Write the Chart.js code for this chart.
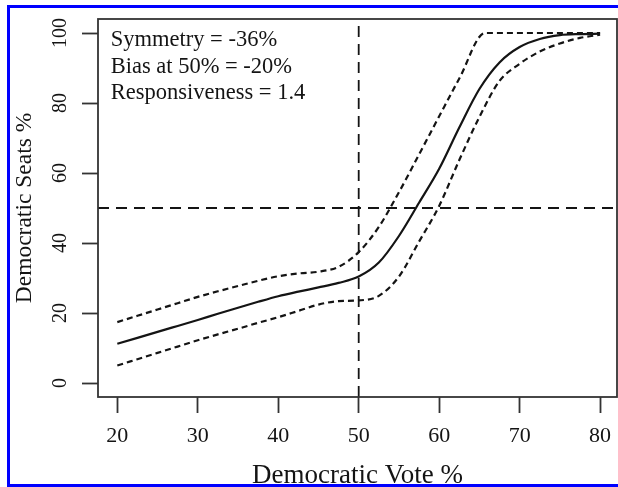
<!DOCTYPE html>
<html>
<head>
<meta charset="utf-8">
<title>Seats-votes curve</title>
<script src="https://cdn.jsdelivr.net/npm/chart.js@4.4.1/dist/chart.umd.min.js"></script>
<style>
    html, body { margin: 0; padding: 0; background: #fff; overflow: hidden; }
    #frame { position: absolute; left: 7px; top: 5px; width: 700px; height: 482px; box-sizing: border-box; border: 3px solid #0000ff; border-right: none; }
    #chart { position: absolute; left: 0; top: 0; }
</style>
</head>
<body>
<div id="frame"></div>
<canvas id="chart" width="618" height="487"></canvas>
<script>
// Vote share (x) and estimated seat share (y)
const voteShare = [20, 22.5, 25, 27.5, 30, 32.5, 35, 37.5, 40, 42.5, 45, 47.5, 50, 52.5, 55, 57.5, 60, 62.5, 65, 67.5, 70, 72.5, 75, 77.5, 80];
const seatsCentral = [11.2, 12.9, 14.6, 16.3, 18.0, 19.8, 21.5, 23.2, 24.8, 26.1, 27.3, 28.6, 30.4, 34.4, 42.0, 51.5, 61.2, 73.0, 84.0, 91.6, 96.0, 98.3, 99.4, 99.7, 99.8];
const seatsLower = [5.0, 6.8, 8.6, 10.4, 12.2, 13.9, 15.5, 17.2, 18.8, 20.6, 22.4, 23.4, 23.6, 24.9, 30.4, 40.4, 50.6, 63.7, 76.0, 86.3, 91.2, 94.7, 97.0, 98.6, 99.5];
// upper band hits 100 with a sharp corner, so it has its own x values
const upperVote = [20, 22.5, 25, 27.5, 30, 32.5, 35, 37.5, 40, 42.5, 45, 47.5, 50, 52.5, 55, 57.5, 60, 62.5, 65.7, 70, 75, 80];
const seatsUpper = [17.4, 19.2, 21.0, 22.8, 24.6, 26.2, 27.7, 29.2, 30.5, 31.3, 31.8, 33.2, 37.4, 44.6, 54.5, 65.3, 76.2, 87.0, 100, 100, 100, 100];

const voteTicks = [20, 30, 40, 50, 60, 70, 80];
const seatTicks = [0, 20, 40, 60, 80, 100];
const refVote = 50;
const refSeats = 50;
const statLines = ['Symmetry = -36%', 'Bias at 50% = -20%', 'Responsiveness = 1.4'];

// axis limits like R's 4% padding
const xMin = 17.6, xMax = 82.1;
const yMin = -4, yMax = 104;

const serif = '"Liberation Serif", "DejaVu Serif", serif';
const ink = '#141414';
const axisInk = '#333333';

function toPoints(xs, ys){
    return xs.map((x, i) => ({ x: x, y: ys[i] }));
}

// Keep the plot region fixed: no extra room for overhanging tick labels
function fixSize(s, prop, size){
    s[prop] = size;
    s.paddingLeft = 0;
    s.paddingRight = 0;
    s.paddingTop = 0;
    s.paddingBottom = 0;
}

// Box around the plot region plus the text block in the top left corner
const boxPlugin = {
    id: 'box',
    afterDatasetsDraw(chart){
        const { ctx, chartArea } = chart;
        ctx.save();
        ctx.strokeStyle = axisInk;
        ctx.lineWidth = 1.8;
        ctx.strokeRect(chartArea.left, chartArea.top, chartArea.right - chartArea.left, chartArea.bottom - chartArea.top);
        ctx.fillStyle = ink;
        ctx.font = '22.5px ' + serif;
        ctx.textBaseline = 'alphabetic';
        ctx.textAlign = 'left';
        statLines.forEach((line, i) => {
            ctx.fillText(line, chartArea.left + 12.7, chartArea.top + 27 + i * 26.7);
        });
        ctx.restore();
    }
};

const curveStyle = {
    pointRadius: 0,
    fill: false,
    borderColor: ink,
    borderWidth: 2.2,
    cubicInterpolationMode: 'monotone'
};

new Chart(document.getElementById('chart').getContext('2d'), {
    type: 'line',
    data: {
        datasets: [
            { ...curveStyle, label: 'Central', data: toPoints(voteShare, seatsCentral) },
            { ...curveStyle, label: 'Upper', data: toPoints(upperVote, seatsUpper), borderDash: [6, 4] },
            { ...curveStyle, label: 'Lower', data: toPoints(voteShare, seatsLower), borderDash: [6, 4] },
            {
                label: 'Half seats', data: [{ x: xMin, y: refSeats }, { x: xMax, y: refSeats }],
                pointRadius: 0, borderColor: ink, borderWidth: 1.8, borderDash: [11, 7], tension: 0
            },
            {
                label: 'Half votes', data: [{ x: refVote, y: yMin }, { x: refVote, y: yMax }],
                pointRadius: 0, borderColor: ink, borderWidth: 1.8, borderDash: [11, 7], tension: 0
            }
        ]
    },
    options: {
        responsive: false,
        animation: false,
        events: [],
        layout: { padding: { top: 19, right: 1, bottom: 0, left: 0 } },
        plugins: {
            legend: { display: false },
            tooltip: { enabled: false }
        },
        scales: {
            x: {
                type: 'linear',
                min: xMin,
                max: xMax,
                afterBuildTicks: s => { s.ticks = voteTicks.map(v => ({ value: v })); },
                afterFit: s => fixSize(s, 'height', 90),
                border: { display: false },
                grid: { drawOnChartArea: false, drawTicks: true, tickLength: 16, tickWidth: 1.8, tickColor: axisInk },
                ticks: { color: ink, padding: 12.5, font: { family: serif, size: 22, lineHeight: 1 } },
                title: {
                    display: true, text: 'Democratic Vote %', color: ink,
                    font: { family: serif, size: 27, lineHeight: 0.85 }, padding: { top: 0, bottom: 0 }
                }
            },
            y: {
                type: 'linear',
                min: yMin,
                max: yMax,
                afterBuildTicks: s => { s.ticks = seatTicks.map(v => ({ value: v })); },
                afterFit: s => fixSize(s, 'width', 98),
                border: { display: false },
                grid: { drawOnChartArea: false, drawTicks: true, tickLength: 16, tickWidth: 1.8, tickColor: axisInk },
                ticks: {
                    color: ink, padding: 6.3, minRotation: 90, maxRotation: 90, crossAlign: 'center',
                    font: { family: serif, size: 20, lineHeight: 1 }
                },
                title: {
                    display: true, text: 'Democratic Seats %', color: ink,
                    font: { family: serif, size: 23.5, lineHeight: 1 }, padding: { top: 13.5, bottom: 0 }
                }
            }
        }
    },
    plugins: [boxPlugin]
});
</script>
</body>
</html>
